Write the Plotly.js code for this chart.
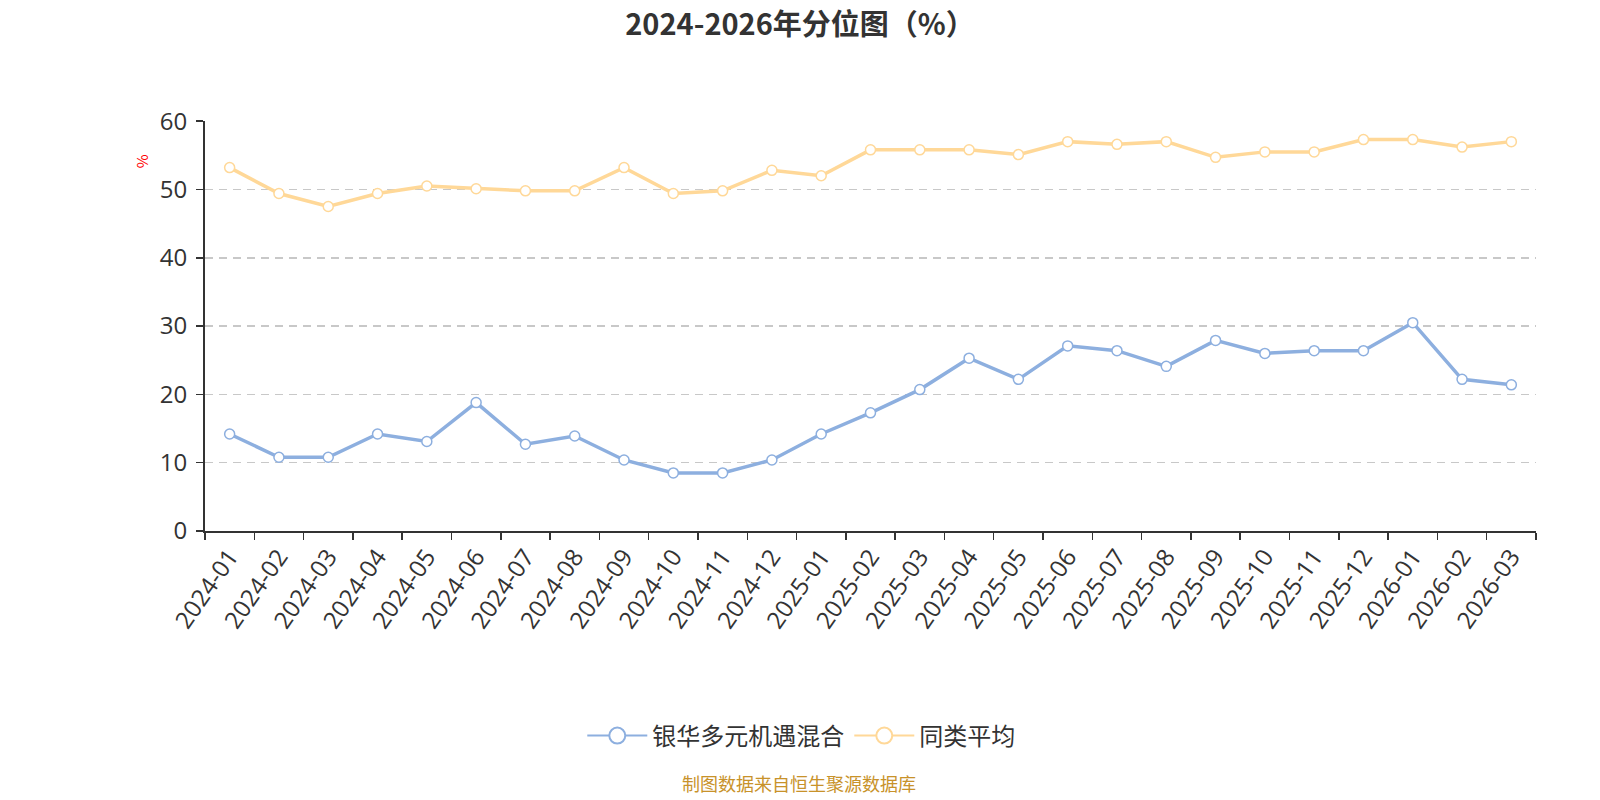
<!DOCTYPE html>
<html>
<head>
<meta charset="utf-8">
<script src="https://cdn.plot.ly/plotly-3.0.1.min.js"></script>
<style>html,body{margin:0;padding:0;background:#fff;}#chart{width:1600px;height:800px;}</style>
</head>
<body>
<div id="chart"></div>
<script>
const months = ["2024-01","2024-02","2024-03","2024-04","2024-05","2024-06","2024-07","2024-08","2024-09","2024-10","2024-11","2024-12","2025-01","2025-02","2025-03","2025-04","2025-05","2025-06","2025-07","2025-08","2025-09","2025-10","2025-11","2025-12","2026-01","2026-02","2026-03"];
const fundName = "银华多元机遇混合";
const avgName = "同类平均";
const fundValues = [14.2,10.8,10.8,14.2,13.1,18.8,12.7,13.9,10.4,8.5,8.5,10.4,14.2,17.3,20.7,25.3,22.2,27.1,26.4,24.1,27.9,26.0,26.4,26.4,30.5,22.2,21.4];
const avgValues = [53.2,49.4,47.5,49.4,50.5,50.1,49.8,49.8,53.2,49.4,49.8,52.8,52.0,55.8,55.8,55.8,55.1,57.0,56.6,57.0,54.7,55.5,55.5,57.3,57.3,56.2,57.0];
const yTicks = [0,10,20,30,40,50,60];
const titleText = "2024-2026年分位图（%）";
const sourceText = "制图数据来自恒生聚源数据库";

const FONT = '"Noto Sans CJK SC", "Microsoft YaHei", sans-serif';
const TICKFONT = '"Open Sans", "Noto Sans CJK SC", sans-serif';
const BLUE = '#8dafdf';
const ORANGE = '#ffd898';

const traces = [
  {x: months, y: fundValues, name: fundName, type: 'scatter', mode: 'lines+markers', showlegend: false,
   line: {color: BLUE, width: 3.5},
   marker: {symbol: 'circle', size: 10, color: '#ffffff', line: {color: BLUE, width: 1.5}}},
  {x: months, y: avgValues, name: avgName, type: 'scatter', mode: 'lines+markers', showlegend: false,
   line: {color: ORANGE, width: 3.5},
   marker: {symbol: 'circle', size: 10, color: '#ffffff', line: {color: ORANGE, width: 1.5}}},
  {x: [null], y: [null], name: fundName, type: 'scatter', mode: 'lines+markers', showlegend: true, hoverinfo: 'skip',
   line: {color: BLUE, width: 2},
   marker: {symbol: 'circle', size: 16, color: '#ffffff', line: {color: BLUE, width: 2}}},
  {x: [null], y: [null], name: avgName, type: 'scatter', mode: 'lines+markers', showlegend: true, hoverinfo: 'skip',
   line: {color: ORANGE, width: 2},
   marker: {symbol: 'circle', size: 16, color: '#ffffff', line: {color: ORANGE, width: 2}}}
];

const layout = {
  width: 1600, height: 800,
  paper_bgcolor: '#ffffff', plot_bgcolor: '#ffffff',
  margin: {l: 205, r: 64, t: 121, b: 269, pad: 0},
  font: {family: FONT, color: '#333333'},
  title: {text: '<b>' + titleText + '</b>', x: 0.5, xref: 'container', xanchor: 'center',
          y: 0.969, yref: 'container', yanchor: 'middle',
          font: {family: FONT, size: 29, color: '#333333'}},
  xaxis: {type: 'category', tickson: 'boundaries', ticks: 'outside', ticklen: 7, tickwidth: 1.5, tickcolor: '#333',
          showline: true, linecolor: '#333', linewidth: 2, showgrid: false, zeroline: false,
          tickangle: -55, tickfont: {family: TICKFONT, size: 24, color: '#333'},
          range: [-0.5, months.length - 0.5], fixedrange: true},
  yaxis: {range: [0, 60.02], tickvals: yTicks, ticks: 'outside', ticklen: 7, tickwidth: 1.5, tickcolor: '#333',
          showline: true, linecolor: '#333', linewidth: 2,
          showgrid: true, gridcolor: '#c8c8c8', griddash: '8px,6px', gridwidth: 1.5, zeroline: false,
          tickfont: {family: TICKFONT, size: 24, color: '#333'}, ticklabelstandoff: 4},
  showlegend: true,
  legend: {orientation: 'h', x: 0.448, xanchor: 'center', y: -0.5, yanchor: 'middle',
           font: {family: FONT, size: 24, color: '#333'}, itemwidth: 60, traceorder: 'normal'},
  annotations: [
    {text: '%', xref: 'paper', yref: 'paper', x: -0.048, y: 0.902, showarrow: false, textangle: -90,
     font: {family: FONT, size: 15, color: '#ff0000'}, xanchor: 'center', yanchor: 'middle'},
    {text: sourceText, xref: 'paper', yref: 'paper', x: 0.446, y: -0.615, showarrow: false,
     font: {family: FONT, size: 18, color: '#c8922a'}, xanchor: 'center', yanchor: 'middle'}
  ]
};

Plotly.newPlot('chart', traces, layout, {displayModeBar: false, staticPlot: true});
</script>
</body>
</html>
